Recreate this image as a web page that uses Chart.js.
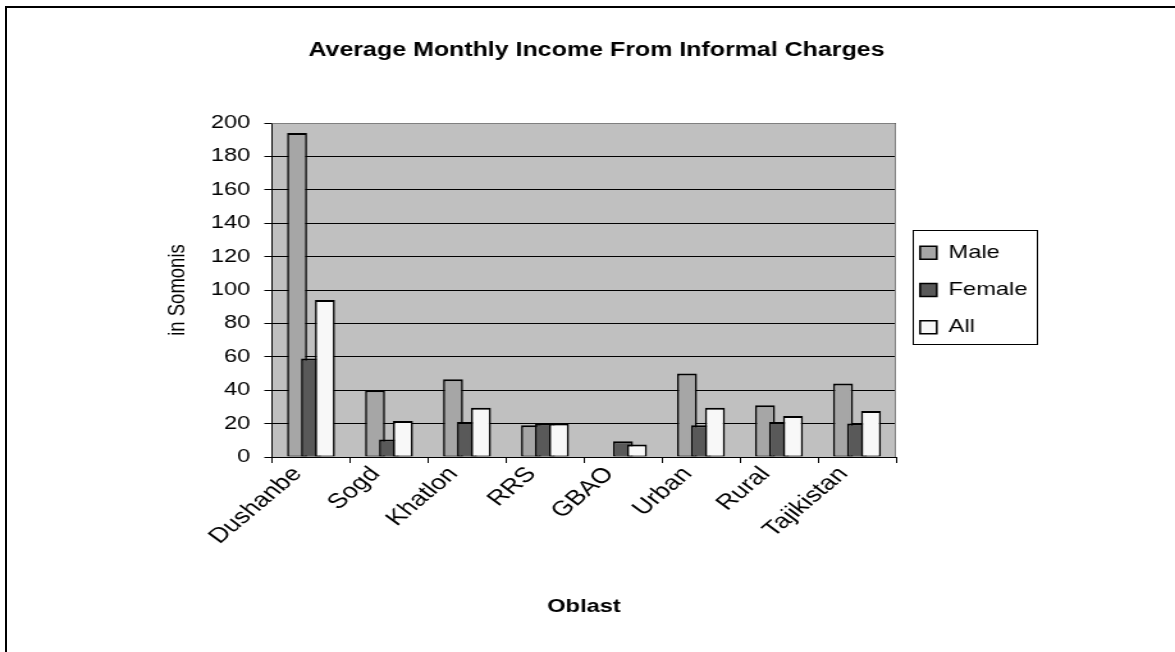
<!DOCTYPE html>
<html>
<head>
<meta charset="utf-8">
<script src="https://cdn.jsdelivr.net/npm/chart.js@4.4.1/dist/chart.umd.min.js"></script>
<style>
  html, body { margin: 0; padding: 0; background: #fff; overflow: hidden; width: 1175px; height: 652px; }
  #frame { position: absolute; left: 5px; top: 6px; width: 1300px; height: 700px;
           border-left: 2px solid #000; border-top: 2px solid #000; }
  #wrap { position: absolute; left: 0; top: 0; width: 932px; height: 652px;
          transform: scaleX(1.28); transform-origin: 0 0; }
  canvas { display: block; }
</style>
</head>
<body>
<div id="frame"></div>
<div id="wrap"><canvas id="chart" width="932" height="652"></canvas></div>
<script>
// Average monthly income from informal charges, in somonis
const categories = ['Dushanbe', 'Sogd', 'Khatlon', 'RRS', 'GBAO', 'Urban', 'Rural', 'Tajikistan'];
const maleValues   = [194, 40, 46.5, 19, null, 50, 31, 44];
const femaleValues = [59, 10.5, 21, 20, 9.5, 19, 21, 20];
const allValues    = [94, 21.5, 29.5, 20, 7.5, 29.5, 24.5, 27.5];
const yTicks = [0, 20, 40, 60, 80, 100, 120, 140, 160, 180, 200];

Chart.defaults.font.family = "'Liberation Sans', Arial, sans-serif";
Chart.defaults.color = '#000';

const LEGEND_W = 232;

// grey plot backdrop plus grey top/right frame of the plot area
const plotBackdrop = {
  id: 'plotBackdrop',
  beforeDraw(chart) {
    const { ctx, chartArea: a } = chart;
    ctx.save();
    ctx.fillStyle = '#c0c0c0';
    ctx.fillRect(a.left, a.top, a.right - a.left, a.bottom - a.top);
    ctx.restore();
  },
  beforeDatasetsDraw(chart) {
    const { ctx, chartArea: a } = chart;
    ctx.save();
    ctx.strokeStyle = '#808080';
    ctx.lineWidth = 1;
    ctx.beginPath();
    ctx.moveTo(a.left, a.top + 0.5);
    ctx.lineTo(a.right - 0.5, a.top + 0.5);
    ctx.lineTo(a.right - 0.5, a.bottom);
    ctx.stroke();
    ctx.restore();
  }
};

// draw series left to right so each bar sits on top of its left neighbour
const barLayering = {
  id: 'barLayering',
  beforeDatasetsDraw(chart) {
    chart.getSortedVisibleDatasetMetas().forEach(meta => meta.controller.draw());
    return false;
  }
};

// fixed legend width and a box around the legend entries
const legendFrame = {
  id: 'legendFrame',
  afterInit(chart) {
    const lg = chart.legend;
    const baseFit = lg.fit;
    lg.fit = function () { baseFit.call(this); this.width = LEGEND_W; };
  },
  afterDraw(chart) {
    const hb = chart.legend.legendHitBoxes;
    if (!hb || !hb.length) return;
    const left = hb[0].left - 6;
    const top = hb[0].top - 13.5;
    const right = Math.max(...hb.map(h => h.left + h.width)) + 7.3;
    const last = hb[hb.length - 1];
    const bottom = last.top + last.height + 7;
    const ctx = chart.ctx;
    ctx.save();
    ctx.strokeStyle = '#000';
    ctx.lineWidth = 1;
    ctx.strokeRect(Math.round(left) + 0.5, Math.round(top) + 0.5, Math.round(right - left), Math.round(bottom - top));
    ctx.restore();
  }
};

const barStyle = { borderColor: '#000', borderWidth: { top: 2, bottom: 1, left: 1.6, right: 1.6 },
                   borderSkipped: false, categoryPercentage: 0.537, barPercentage: 1.43 };

new Chart(document.getElementById('chart'), {
  type: 'bar',
  data: {
    labels: categories,
    datasets: [
      { label: 'Male',   data: maleValues,   backgroundColor: '#a6a6a6', ...barStyle },
      { label: 'Female', data: femaleValues, backgroundColor: '#595959', ...barStyle },
      { label: 'All',    data: allValues,    backgroundColor: '#f8f8f8', ...barStyle }
    ]
  },
  options: {
    responsive: false,
    animation: false,
    layout: { padding: 0 },
    plugins: {
      title: {
        display: true,
        text: 'Average Monthly Income From Informal Charges',
        font: { size: 19.5, weight: 'bold' },
        padding: { top: 38.8, bottom: 60.8 }
      },
      legend: {
        position: 'right',
        fullSize: false,
        labels: {
          boxWidth: 13, boxHeight: 13, padding: 18.8,
          font: { size: 18.5 }
        }
      },
      tooltip: { enabled: false }
    },
    scales: {
      x: {
        grid: { drawOnChartArea: false, drawTicks: true, tickLength: 6, color: '#000', offset: true },
        border: { color: '#000', width: 1 },
        ticks: { minRotation: 47, maxRotation: 47, autoSkip: false, padding: -1, labelOffset: -10.5,
                 font: { size: 21 } },
        title: { display: true, text: 'Oblast', font: { size: 18.5, weight: 'bold' }, padding: { top: 0, bottom: 34 } },
        afterFit(scale) { scale.height = 195; }
      },
      y: {
        min: 0, max: 200,
        afterBuildTicks(scale) { scale.ticks = yTicks.map(v => ({ value: v })); },
        grid: { color: '#000', lineWidth: 1, drawTicks: true, tickLength: 6 },
        border: { color: '#000', width: 1 },
        ticks: { padding: 11, font: { size: 18.5 } },
        title: { display: true, text: 'in Somonis', font: { size: 18.5 }, padding: { top: 127.6, bottom: 0 } },
        afterFit(scale) { scale.width = 212.5; }
      }
    }
  },
  plugins: [plotBackdrop, barLayering, legendFrame]
});
</script>
</body>
</html>
